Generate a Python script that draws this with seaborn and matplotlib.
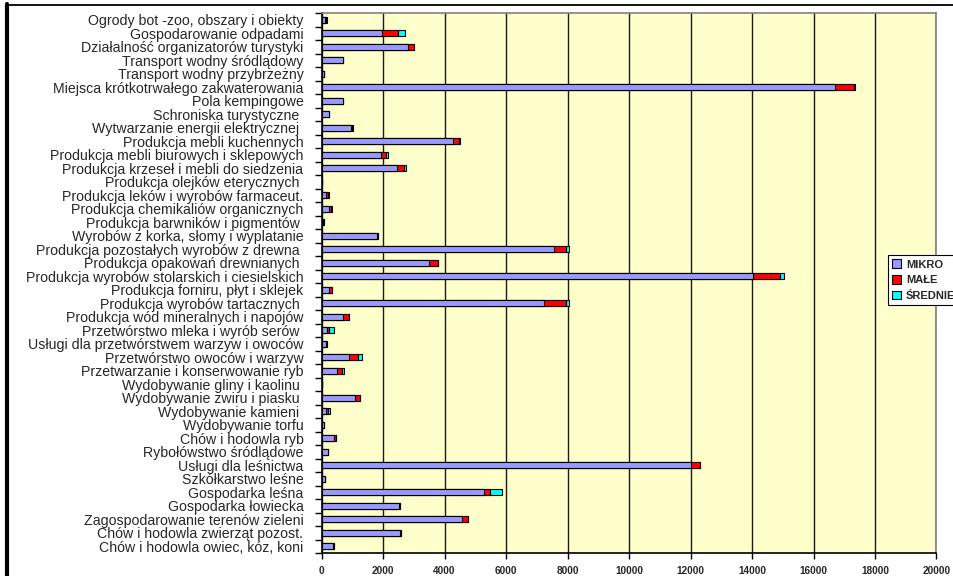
import matplotlib
matplotlib.use("Agg")
import matplotlib.pyplot as plt
import seaborn as sns
import pandas as pd
import numpy as np
from matplotlib.patches import Patch
from matplotlib.lines import Line2D

categories = [
    "Ogrody bot -zoo, obszary i obiekty",
    "Gospodarowanie odpadami",
    "Działalność organizatorów turystyki",
    "Transport wodny śródlądowy",
    "Transport wodny przybrzeżny",
    "Miejsca krótkotrwałego zakwaterowania",
    "Pola kempingowe",
    "Schroniska turystyczne ",
    "Wytwarzanie energii elektrycznej ",
    "Produkcja mebli kuchennych",
    "Produkcja mebli biurowych i sklepowych",
    "Produkcja krzeseł i mebli do siedzenia",
    "Produkcja olejków eterycznych ",
    "Produkcja leków i wyrobów farmaceut.",
    "Produkcja chemikaliów organicznych",
    "Produkcja barwników i pigmentów ",
    "Wyrobów z korka, słomy i wyplatanie",
    "Produkcja pozostałych wyrobów z drewna ",
    "Produkcja opakowań drewnianych ",
    "Produkcja wyrobów stolarskich i ciesielskich",
    "Produkcja forniru, płyt i sklejek",
    "Produkcja wyrobów tartacznych ",
    "Produkcja wód mineralnych i napojów",
    "Przetwórstwo mleka i wyrób serów ",
    "Usługi dla przetwórstwem warzyw i owoców",
    "Przetwórstwo owoców i warzyw",
    "Przetwarzanie i konserwowanie ryb",
    "Wydobywanie gliny i kaolinu ",
    "Wydobywanie żwiru i piasku ",
    "Wydobywanie kamieni ",
    "Wydobywanie torfu",
    "Chów i hodowla ryb",
    "Rybołówstwo śródlądowe",
    "Usługi dla leśnictwa",
    "Szkółkarstwo leśne",
    "Gospodarka leśna",
    "Gospodarka łowiecka",
    "Zagospodarowanie terenów zieleni",
    "Chów i hodowla zwierząt pozost.",
    "Chów i hodowla owiec, kóz, koni",
]

mikro = [100, 1960, 2820, 710, 70, 16700, 690, 250, 950, 4270,
         1920, 2450, 0, 150, 250, 60, 1790, 7570, 3490, 14040,
         250, 7250, 710, 170, 140, 900, 490, 0, 1100, 140,
         70, 410, 210, 12020, 120, 5300, 2530, 4560, 2560, 380]
male = [60, 520, 180, 0, 0, 620, 0, 10, 50, 200,
        190, 230, 0, 70, 70, 10, 40, 390, 290, 860,
        90, 690, 190, 85, 30, 290, 165, 0, 140, 80,
        10, 70, 10, 300, 0, 190, 20, 210, 25, 30]
srednie = [10, 230, 10, 0, 0, 20, 0, 0, 10, 20,
           60, 70, 0, 10, 10, 0, 0, 80, 20, 130,
           10, 120, 10, 150, 0, 140, 75, 0, 10, 50,
           0, 0, 0, 0, 0, 380, 0, 10, 0, 0]

series_names = ["MIKRO", "MAŁE", "ŚREDNIE"]
series_colors = ["#9999FF", "#FF0000", "#00FFFF"]
xticks = [0, 2000, 4000, 6000, 8000, 10000, 12000, 14000, 16000, 18000, 20000]

sns.set_theme(style="white")
plt.rcParams["font.family"] = ["Liberation Sans", "DejaVu Sans"]

df = pd.DataFrame({"cat": categories, "mikro": mikro, "male": male, "srednie": srednie})
df["cum2"] = df["mikro"] + df["male"]
df["cum3"] = df["cum2"] + df["srednie"]

W, H = 954, 576
fig = plt.figure(figsize=(W / 100, H / 100), dpi=100)
fig.patch.set_facecolor("white")
left, right, top, bottom = 321.5, 936.5, 13, 553
ax = fig.add_axes([left / W, 1 - bottom / H, (right - left) / W, (bottom - top) / H])
ax.set_facecolor("#FFFFCC")

for col, colr in [("cum3", series_colors[2]), ("cum2", series_colors[1]), ("mikro", series_colors[0])]:
    sns.barplot(data=df, y="cat", x=col, orient="h", order=categories, color=colr,
                saturation=1, edgecolor="black", linewidth=0.8, width=0.42, ax=ax, zorder=3)

n = len(categories)
ax.set_xlim(0, 20000)
ax.set_ylim(n - 0.5, -0.5)
ax.set_xlabel("")
ax.set_ylabel("")

ax.set_axisbelow(True)
ax.xaxis.grid(True, color="#1a1a1a", linewidth=1.0, zorder=0)
ax.yaxis.grid(False)

ax.set_xticks(xticks)
ax.set_xticklabels([str(t) for t in xticks], fontsize=7.2, fontweight="bold")
ax.tick_params(axis="x", length=4, width=1, direction="out", color="black", pad=5.5, bottom=True)

ax.set_yticks(range(n))
ax.set_yticklabels(categories, fontsize=10.2)
ax.tick_params(axis="y", which="major", length=0, pad=13, left=True)
ax.set_yticks(np.arange(-0.5, n, 1.0), minor=True)
ax.tick_params(axis="y", which="minor", length=5, width=1, direction="out", color="black", left=True)

for s in ["top", "right"]:
    ax.spines[s].set_color("#808080")
    ax.spines[s].set_linewidth(1.2)
for s in ["left", "bottom"]:
    ax.spines[s].set_color("black")
    ax.spines[s].set_linewidth(1.2)

handles = [Patch(facecolor=c, edgecolor="black", linewidth=0.8) for c in series_colors]
leg = fig.legend(handles, series_names, loc="upper left",
                 bbox_to_anchor=(888 / W, 1 - 255 / H), bbox_transform=fig.transFigure,
                 prop={"size": 8, "weight": "bold"}, frameon=True, fancybox=False,
                 edgecolor="black", framealpha=1, handlelength=0.8, handleheight=0.8,
                 handletextpad=0.4, borderpad=0.4, labelspacing=0.5, borderaxespad=0)
leg.get_frame().set_linewidth(0.8)

# outer chart frame
fig.add_artist(Line2D([7.5 / W, 7.5 / W], [0, 1 - 4 / H], transform=fig.transFigure,
                      color="black", linewidth=3))
fig.add_artist(Line2D([7.5 / W, 1], [1 - 4.5 / H, 1 - 4.5 / H], transform=fig.transFigure,
                      color="black", linewidth=1.3))

fig.savefig("out.png", dpi=100, facecolor="white")
